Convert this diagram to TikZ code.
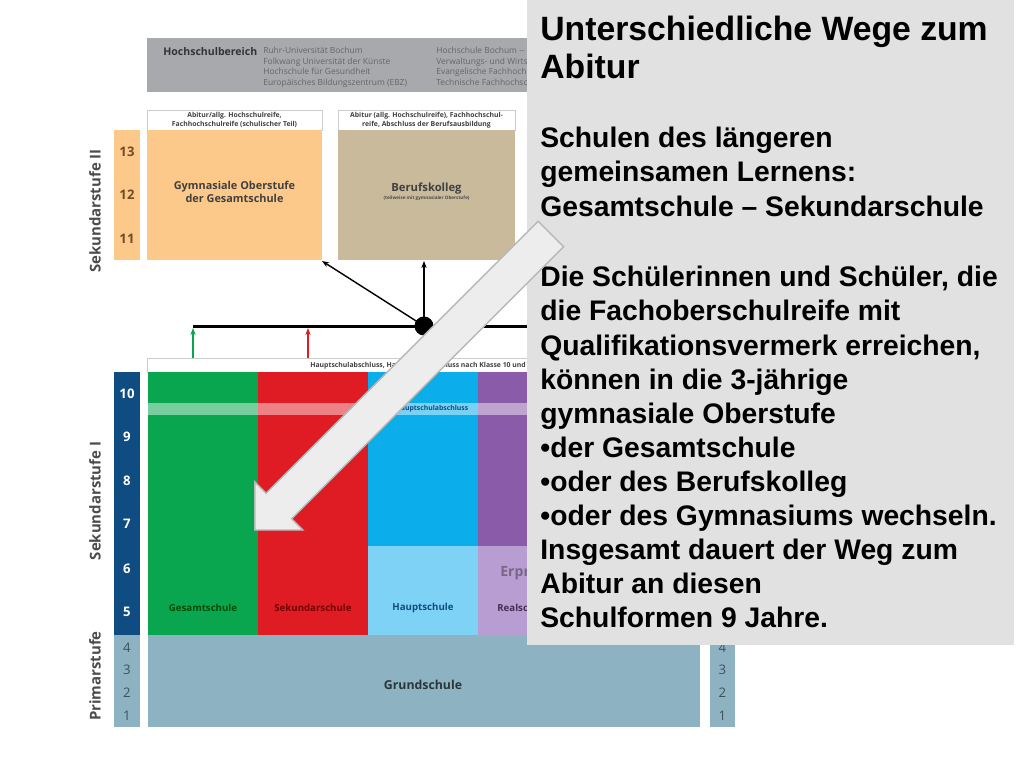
\documentclass[tikz,border=0pt]{standalone}
\usepackage{fontspec}
\setmainfont{Liberation Sans}
\newfontfamily\chartfont{Open Sans}
\usepackage{xcolor}
\usetikzlibrary{arrows.meta}

\definecolor{hsgrey}{HTML}{A8A9AC}
\definecolor{oberorange}{HTML}{FCC98B}
\definecolor{kollegtan}{HTML}{C9BA9B}
\definecolor{gesgreen}{HTML}{0AA64F}
\definecolor{sekred}{HTML}{DF1B23}
\definecolor{hauptcyan}{HTML}{0BAEEA}
\definecolor{hauptlight}{HTML}{7ED2F6}
\definecolor{realpurple}{HTML}{8A5BA8}
\definecolor{reallight}{HTML}{B89DD2}
\definecolor{sekinavy}{HTML}{0F4C81}
\definecolor{primblue}{HTML}{8DB3C3}
\definecolor{panelgrey}{HTML}{E1E1E1}

\begin{document}
\begin{tikzpicture}[x=0.02cm,y=-0.02cm,
  stufe/.style={font=\chartfont\bfseries\fontsize{8.5}{9}\selectfont, text=black!70, rotate=90, inner sep=0},
  num/.style={font=\chartfont\bfseries\fontsize{7.5}{8}\selectfont, inner sep=0},
  hdr/.style={font=\chartfont\bfseries\fontsize{3.9}{5.4}\selectfont, text=black!75, align=center, inner sep=0},
  schul/.style={font=\chartfont\bfseries\fontsize{5.5}{6}\selectfont, inner sep=0},
  hs/.style={font=\chartfont\fontsize{4.8}{6}\selectfont, text=black!60, align=left, inner sep=0, anchor=north west},
  panel/.style={font=\bfseries\fontsize{16.1}{19.4}\selectfont, align=left, inner sep=0, anchor=north west},
  link/.style={-{Stealth[length=4pt,width=3pt]}, line width=0.8pt}]
\useasboundingbox[fill=white] (0,0) rectangle (1024,768);

% Hochschulbereich
\fill[hsgrey] (147,38) rectangle (700,92);
\node[font=\chartfont\bfseries\fontsize{6}{7}\selectfont, text=black!80, inner sep=0, anchor=west] (hsb) at (163,52) {Hochschulbereich};
\node[hs] (hsleft) at (263,47) {Ruhr-Universität Bochum\\Folkwang Universität der Künste\\Hochschule für Gesundheit\\Europäisches Bildungszentrum (EBZ)};
\node[hs] (hsright) at (436,47) {Hochschule Bochum --\\Verwaltungs- und Wirtschaftsakademie\\Evangelische Fachhochschule\\Technische Fachhochschule};

% Sekundarstufe II
\fill[oberorange] (114,130) rectangle (140,260);
\foreach \n/\y in {13/152,12/195,11/239}
  \node[num, text=brown!60!black] (s2n\n) at (127,\y) {\n};
\node[stufe] (sek2) at (95,211) {Sekundarstufe II};
\draw[black!20, fill=white] (147,110) rectangle (322,130);
\node[hdr] (gymhdr) at (234.5,120) {Abitur/allg. Hochschulreife,\\Fachhochschulreife (schulischer Teil)};
\fill[oberorange] (147,130) rectangle (322,260);
\node[font=\chartfont\bfseries\fontsize{6.2}{7.2}\selectfont, text=black!75, align=center, inner sep=0] (gym) at (234.5,192) {Gymnasiale Oberstufe\\der Gesamtschule};
\draw[black!20, fill=white] (338,110) rectangle (515,130);
\node[hdr] (bkhdr) at (426.5,120) {Abitur (allg. Hochschulreife), Fachhochschul-\\reife, Abschluss der Berufsausbildung};
\fill[kollegtan] (338,130) rectangle (515,260);
\node[font=\chartfont\bfseries\fontsize{6.4}{7}\selectfont, text=black!75, inner sep=0] (bk) at (426.5,189) {Berufskolleg};
\node[font=\chartfont\bfseries\fontsize{2.6}{3}\selectfont, text=black!70, inner sep=0] (bksub) at (426.5,198) {(teilweise mit gymnasialer Oberstufe)};
\coordinate (gymcorner) at (322,261);
\coordinate (bkfoot) at (424,261);

% Uebergaenge
\coordinate (hub) at (424,326);
\coordinate (lineL) at (193,326);
\coordinate (lineR) at (700,326);
\coordinate (greenfoot) at (193,358);
\coordinate (greentop) at (193,328);
\coordinate (redfoot) at (308,358);
\coordinate (redtop) at (308,328);
\draw[line width=1.7pt] (lineL) -- (lineR);
\draw[link] (hub) -- (gymcorner);
\draw[link] (hub) -- (bkfoot);
\fill (hub) circle (9.5);
\draw[link, line width=0.6pt, gesgreen] (greenfoot) -- (greentop);
\draw[link, line width=0.6pt, sekred] (redfoot) -- (redtop);

% Sekundarstufe I
\draw[black!20, fill=white] (147,358) rectangle (700,372);
\node[font=\chartfont\bfseries\fontsize{3.9}{4.5}\selectfont, text=black!75, inner sep=0, anchor=west] (abschl) at (310,366) {Hauptschulabschluss, Hauptschulabschluss nach Klasse 10 und oder Fachoberschulreife};
\fill[sekinavy] (114,372) rectangle (140,635);
\foreach \n/\y in {10/394,9/437,8/481,7/524,6/569,5/612}
  \node[num, text=white] (s1n\n) at (127,\y) {\n};
\node[stufe] (sek1) at (95,501) {Sekundarstufe I};
\fill[gesgreen] (148,372) rectangle (258,635);
\fill[sekred] (258,372) rectangle (368,635);
\fill[hauptcyan] (368,372) rectangle (478,546);
\fill[hauptlight] (368,546) rectangle (478,635);
\fill[realpurple] (478,372) rectangle (600,546);
\fill[reallight] (478,546) rectangle (600,635);
\fill[white, opacity=0.45] (148,403) rectangle (600,415);
\node[font=\chartfont\bfseries\fontsize{3.9}{4.5}\selectfont, text=sekinavy, inner sep=0] (hsband) at (432,409) {Hauptschulabschluss};
\node[font=\chartfont\bfseries\fontsize{8}{9}\selectfont, text=black!35!reallight, inner sep=0, anchor=west] (erpr) at (500,573) {Erprobungsstufe};
\node[schul, text=green!30!black] (ges) at (203,608) {Gesamtschule};
\node[schul, text=red!45!black] (sek) at (313,608) {Sekundarschule};
\node[schul, text=sekinavy] (haupt) at (423,608) {Hauptschule};
\node[schul, text=realpurple!50!black, anchor=west] (real) at (497,608) {Realschule};

% Primarstufe
\fill[primblue] (114,635) rectangle (140,727);
\fill[primblue] (148,635) rectangle (700,727);
\fill[primblue] (710,635) rectangle (735,727);
\foreach \n/\y in {4/648,3/670,2/693,1/716} {
  \node[num, font=\chartfont\fontsize{7.5}{8}\selectfont, text=black!55!primblue] (pl\n) at (127,\y) {\n};
  \node[num, font=\chartfont\fontsize{7.5}{8}\selectfont, text=black!55!primblue] (pr\n) at (722.5,\y) {\n};
}
\node[font=\chartfont\bfseries\fontsize{7}{8}\selectfont, text=black!70!primblue, inner sep=0] (grund) at (423,685) {Grundschule};
\node[stufe] (prim) at (95,676) {Primarstufe};

% Textfeld
\fill[panelgrey] (527,0) rectangle (1014,645);
\node[panel, font=\bfseries\fontsize{19.2}{21.5}\selectfont] (title) at (540,16) {Unterschiedliche Wege zum\\Abitur};
\node[panel] (intro) at (540,127) {Schulen des längeren\\gemeinsamen Lernens:\\Gesamtschule – Sekundarschule};
\node[panel] (body) at (540,266) {Die Schülerinnen und Schüler, die\\die Fachoberschulreife mit\\Qualifikationsvermerk erreichen,\\können in die 3-jährige\\gymnasiale Oberstufe\\•der Gesamtschule\\•oder des Berufskolleg\\•oder des Gymnasiums wechseln.\\Insgesamt dauert der Weg zum\\Abitur an diesen\\Schulformen 9 Jahre.};

% Hinweispfeil
\filldraw[draw=black!28, fill=black!7, line width=0.8pt, line join=miter]
  (538.1,221.3) -- (563.6,246.8) -- (291.7,518.7) -- (303.0,530.0)
  -- (254.9,530.0) -- (254.9,481.9) -- (266.2,493.2) -- cycle;
\end{tikzpicture}
\end{document}
